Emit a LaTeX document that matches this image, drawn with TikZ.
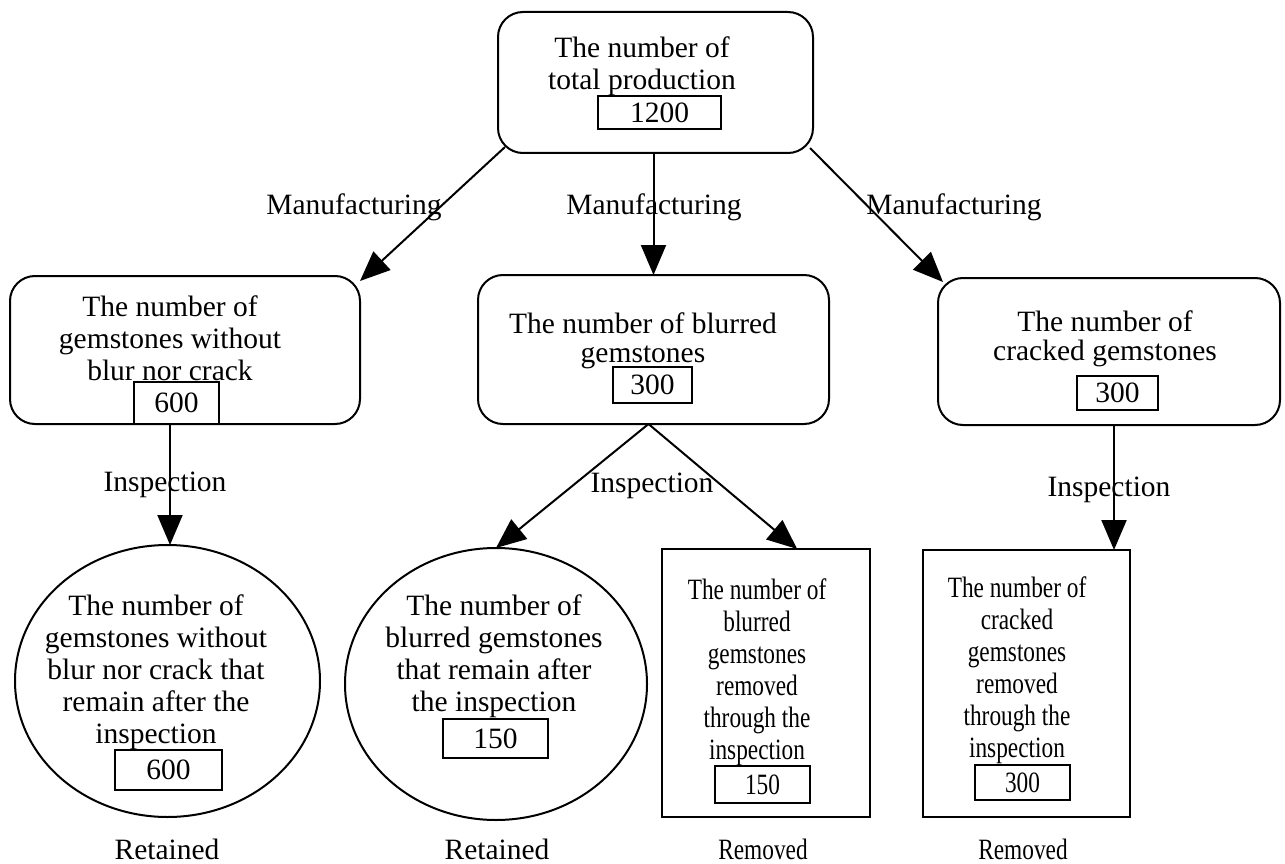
\documentclass[tikz,border=0pt]{standalone}
\usepackage{fontspec}
\setmainfont{Liberation Serif}
\newfontfamily\condfont[FakeStretch=0.79]{Liberation Serif}
\usetikzlibrary{arrows.meta,shapes.geometric,calc}
\begin{document}
\begin{tikzpicture}[x=1pt,y=-1pt,
  every node/.style={font=\fontsize{29.5}{32}\selectfont, inner sep=0pt, outer sep=0pt},
  roundbox/.style={draw, line width=2pt, rounded corners=25pt},
  ovalnode/.style={draw, ellipse, line width=2pt},
  squarebox/.style={draw, rectangle, line width=2.2pt},
  numbox/.style={draw, rectangle, line width=2pt},
  txt/.style={align=center},
  condtxt/.style={align=center, font=\condfont\fontsize{29.5}{32}\selectfont},
  tighttxt/.style={align=center, font=\fontsize{29.5}{29}\selectfont},
  arr/.style={line width=2pt, -{Triangle[length=30pt,width=25pt]}}
]
\fill[white] (0,0) rectangle (1285,864);
\useasboundingbox (0,0) rectangle (1285,864);

% top
\node[roundbox, minimum width=315pt, minimum height=141pt] (top) at (655.5,82.5) {};
\node[txt] (toptext) at (642,66.5) {The number of\\total production};
\node[numbox, minimum width=123pt, minimum height=33pt] (topnum) at (659.5,112.5) {1200};

% middle row
\node[roundbox, minimum width=350pt, minimum height=148pt] (lbox) at (185,350) {};
\node[txt] (ltext) at (170,338) {The number of\\gemstones without\\blur nor crack};
\node[numbox, minimum width=85pt, minimum height=42pt] (lnum) at (176.5,403) {600};

\node[roundbox, minimum width=351pt, minimum height=149pt] (mbox) at (653.5,349.5) {};
\node[tighttxt] (mtext) at (643,341) {The number of blurred\\gemstones};
\node[numbox, minimum width=79pt, minimum height=36pt] (mnum) at (652.5,385) {300};

\node[roundbox, minimum width=342pt, minimum height=147pt] (rbox) at (1109,351.5) {};
\node[tighttxt] (rtext) at (1105,339) {The number of\\cracked gemstones};
\node[numbox, minimum width=81pt, minimum height=34pt] (rnum) at (1117.5,393) {300};

% bottom row
\node[ovalnode, minimum width=305pt, minimum height=272pt] (ell1) at (167.5,681) {};
\node[txt] (e1text) at (156,672.5) {The number of\\gemstones without\\blur nor crack that\\remain after the\\inspection};
\node[numbox, minimum width=107pt, minimum height=40pt] (e1num) at (168.5,770) {600};

\node[ovalnode, minimum width=302pt, minimum height=272pt] (ell2) at (496,684) {};
\node[txt] (e2text) at (494,656.5) {The number of\\blurred gemstones\\that remain after\\the inspection};
\node[numbox, minimum width=105pt, minimum height=39pt] (e2num) at (495.5,738.5) {150};

\node[squarebox, minimum width=208pt, minimum height=268pt] (rect3) at (766,683) {};
\node[condtxt] (r3text) at (757,672.5) {The number of\\blurred\\gemstones\\removed\\through the\\inspection};
\node[numbox, condtxt, minimum width=95pt, minimum height=37pt] (r3num) at (762.5,784.5) {150};

\node[squarebox, minimum width=207pt, minimum height=267pt] (rect4) at (1026.5,683.5) {};
\node[condtxt] (r4text) at (1017,670.5) {The number of\\cracked\\gemstones\\removed\\through the\\inspection};
\node[numbox, condtxt, minimum width=95pt, minimum height=35pt] (r4num) at (1022.5,782.5) {300};

% arrows
\draw[arr] ([shift={(7,-6)}]top.south west) -- ([shift={(0,5)}]lbox.north east);
\draw[arr] (mbox.north |- top.south) -- (mbox.north);
\draw[arr] ([shift={(-3,-5)}]top.south east) -- ([shift={(5,4)}]rbox.north west);

\draw[arr] ([xshift=2.5pt]ell1.north |- lbox.south) -- ([xshift=2.5pt]ell1.north);
\draw[arr] ([xshift=-5pt]mbox.south) -- (ell2.north);
\draw[arr] ([xshift=-5pt]mbox.south) -- ($(rect3.north)!0.3!(rect3.north east)$);
\draw[arr] ([xshift=5pt]rbox.south) -- ([xshift=5pt]rbox.south |- rect4.north);

% labels
\node (m1) at (354,207.5) {Manufacturing};
\node (m2) at (654,207.5) {Manufacturing};
\node (m3) at (954,207.5) {Manufacturing};
\node (i1) at (165,484.5) {Inspection};
\node (i2) at (652,485.5) {Inspection};
\node (i3) at (1109,489.5) {Inspection};
\node (ret1) at (167,849) {Retained};
\node (ret2) at (497,849) {Retained};
\node[condtxt] (rem1) at (763,849) {Removed};
\node[condtxt] (rem2) at (1023,849) {Removed};
\end{tikzpicture}
\end{document}
